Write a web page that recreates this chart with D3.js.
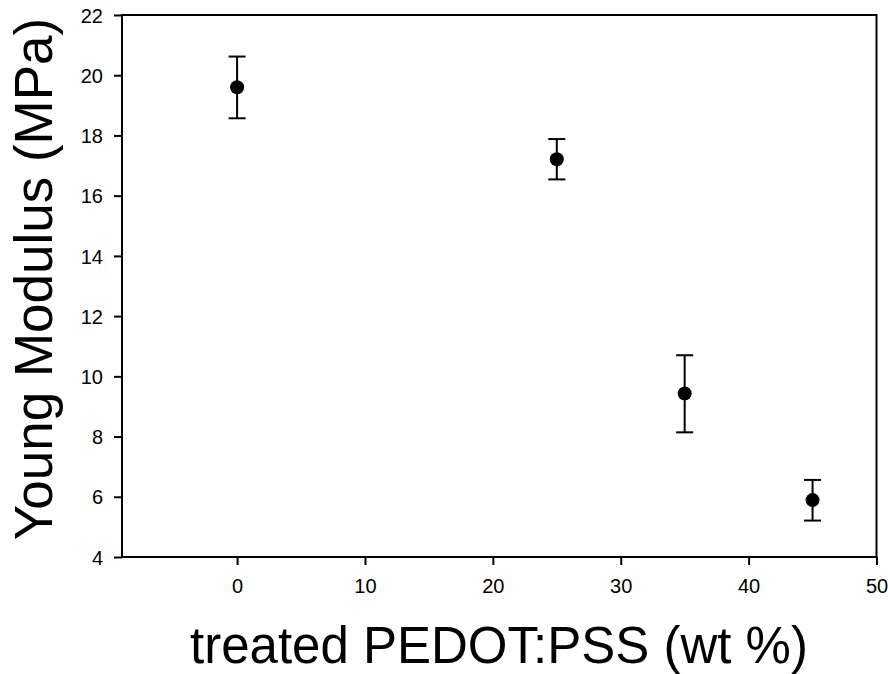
<!DOCTYPE html>
<html><head><meta charset="utf-8">
<script src="https://cdn.jsdelivr.net/npm/d3@7"></script>
<style>body{margin:0;background:#fff}svg{display:block}</style>
</head><body>
<script>
const xValues = [0, 25, 35, 45];
const yValues = [19.6, 17.21, 9.43, 5.89];
const yErrUpper = [20.62, 17.88, 10.70, 6.56];
const yErrLower = [18.57, 16.54, 8.14, 5.21];
const xTicks = [0, 10, 20, 30, 40, 50];
const yTicks = [4, 6, 8, 10, 12, 14, 16, 18, 20, 22];
const xLabel = "treated PEDOT:PSS (wt %)";
const yLabel = "Young Modulus (MPa)";

const W = 888, H = 674;
const L = 122, R = 876.5, T = 15, B = 557;
const svg = d3.select("body").append("svg").attr("width", W).attr("height", H);
const x = d3.scaleLinear().domain([-9, 50]).range([L, R]);
const y = d3.scaleLinear().domain([4, 22]).range([B, T]);
const font = "Arial, 'Liberation Sans', sans-serif";

const xAxis = svg.append("g").attr("transform", `translate(0,${B})`)
  .call(d3.axisBottom(x).tickValues(xTicks).tickSize(8).tickPadding(14).tickSizeOuter(0));
const yAxis = svg.append("g").attr("transform", `translate(${L},0)`)
  .call(d3.axisLeft(y).tickValues(yTicks).tickSize(8).tickPadding(11).tickSizeOuter(0));
[xAxis, yAxis].forEach(g => {
  g.attr("font-size", null).attr("font-family", null);
  g.select(".domain").remove();
  g.selectAll("line").attr("stroke", "#000").attr("stroke-width", 2);
  g.selectAll("text").attr("fill", "#000").attr("font-family", font).attr("font-size", 20);
});
yAxis.selectAll("text").attr("dy", "0.36em");
svg.append("rect").attr("x", L).attr("y", T).attr("width", R - L).attr("height", B - T)
  .attr("fill", "none").attr("stroke", "#000").attr("stroke-width", 2);

const data = xValues.map((v, i) => ({x: v, y: yValues[i], hi: yErrUpper[i], lo: yErrLower[i]}));
const g = svg.append("g");
g.selectAll(".eb").data(data).join("line")
  .attr("x1", d => x(d.x)).attr("x2", d => x(d.x))
  .attr("y1", d => y(d.hi)).attr("y2", d => y(d.lo))
  .attr("stroke", "#000").attr("stroke-width", 2);
["hi", "lo"].forEach(k => {
  g.selectAll(".cap" + k).data(data).join("line")
    .attr("x1", d => x(d.x) - 8.5).attr("x2", d => x(d.x) + 8.5)
    .attr("y1", d => y(d[k])).attr("y2", d => y(d[k]))
    .attr("stroke", "#000").attr("stroke-width", 2);
});
g.selectAll("circle").data(data).join("circle")
  .attr("cx", d => x(d.x)).attr("cy", d => y(d.y)).attr("r", 7).attr("fill", "#000");

svg.append("text").attr("x", 499).attr("y", 663).attr("text-anchor", "middle")
  .attr("font-family", font).attr("font-size", 51).attr("fill", "#000").text(xLabel);
svg.append("text").attr("transform", "translate(52,279) rotate(-90)").attr("text-anchor", "middle")
  .attr("font-family", font).attr("font-size", 53).attr("fill", "#000").text(yLabel);
</script>
</body></html>
